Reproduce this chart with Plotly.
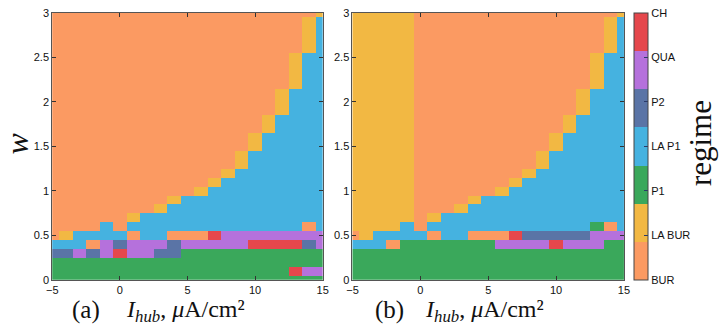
import plotly.graph_objects as go

# ---------------- data ----------------
I_hub = [-5, -4, -3, -2, -1, 0, 1, 2, 3, 4, 5, 6, 7, 8, 9, 10, 11, 12, 13, 14, 15]
w_vals = [0.0, 0.1, 0.2, 0.3, 0.4, 0.5, 0.6, 0.7, 0.8, 0.9, 1.0,
          1.1, 1.2, 1.3, 1.4, 1.5, 1.6, 1.7, 1.8, 1.9, 2.0,
          2.1, 2.2, 2.3, 2.4, 2.5, 2.6, 2.7, 2.8, 2.9, 3.0]

regime_labels = ["BUR", "LA BUR", "P1", "LA P1", "P2", "QUA", "CH"]
regime_colors = ["#FB9A62", "#F2B843", "#3AA85B", "#45B2E0", "#5A74A6", "#B571DC", "#E5474C"]
# letter codes per regime: B=BUR, Y=LA BUR, G=P1, L=LA P1, S=P2, Q=QUA, C=CH
code_map = {"B": 0, "Y": 1, "G": 2, "L": 3, "S": 4, "Q": 5, "C": 6}

# rows from w=0.0 (first) to w=3.0 (last); columns I_hub=-5..15
regime_a = [
    "GGGGGGGGGGGGGGGGGGGGG",  # 0.0
    "GGGGGGGGGGGGGGGGGGCQQ",  # 0.1
    "GGGGGGGGGGGGGGGGGGGGG",  # 0.2
    "SSQSQCQQSSGGGGGGGGGGG",  # 0.3
    "LLLBQSQQQSQQQQQCCCCSQ",  # 0.4
    "BYLLLLBLLBBBCQQQQQQQQ",  # 0.5
    "BBBBLBLLLLLLLLLLLLLBL",  # 0.6
    "BBBBBBYLLLLLLLLLLLLLL",  # 0.7
    "BBBBBBBBYLLLLLLLLLLLL",  # 0.8
    "BBBBBBBBBYLLLLLLLLLLL",  # 0.9
    "BBBBBBBBBBBYLLLLLLLLL",  # 1.0
    "BBBBBBBBBBBBYLLLLLLLL",  # 1.1
    "BBBBBBBBBBBBBYLLLLLLL",  # 1.2
    "BBBBBBBBBBBBBBYLLLLLL",  # 1.3
    "BBBBBBBBBBBBBBYLLLLLL",  # 1.4
    "BBBBBBBBBBBBBBBYLLLLL",  # 1.5
    "BBBBBBBBBBBBBBBYLLLLL",  # 1.6
    "BBBBBBBBBBBBBBBBYLLLL",  # 1.7
    "BBBBBBBBBBBBBBBBYLLLL",  # 1.8
    "BBBBBBBBBBBBBBBBBYLLL",  # 1.9
    "BBBBBBBBBBBBBBBBBYLLL",  # 2.0
    "BBBBBBBBBBBBBBBBBYLLL",  # 2.1
    "BBBBBBBBBBBBBBBBBBYLL",  # 2.2
    "BBBBBBBBBBBBBBBBBBYLL",  # 2.3
    "BBBBBBBBBBBBBBBBBBYLL",  # 2.4
    "BBBBBBBBBBBBBBBBBBYLL",  # 2.5
    "BBBBBBBBBBBBBBBBBBBYL",  # 2.6
    "BBBBBBBBBBBBBBBBBBBYL",  # 2.7
    "BBBBBBBBBBBBBBBBBBBYL",  # 2.8
    "BBBBBBBBBBBBBBBBBBBYL",  # 2.9
    "BBBBBBBBBBBBBBBBBBBBY",  # 3.0
]

regime_b = [
    "GGGGGGGGGGGGGGGGGGGGG",  # 0.0
    "GGGGGGGGGGGGGGGGGGGGG",  # 0.1
    "GGGGGGGGGGGGGGGGGGGGG",  # 0.2
    "GGGGGGGGGGGGGGGGGGGGG",  # 0.3
    "LLLBGGGGGGGQQQQCQQQGG",  # 0.4
    "BYLLLLBLLBBBCSSSSSQQQ",  # 0.5
    "YYYYLBLLLLLLLLLLLLGBL",  # 0.6
    "YYYYYBYLLLLLLLLLLLLLL",  # 0.7
    "YYYYYBBBYLLLLLLLLLLLL",  # 0.8
    "YYYYYBBBBYLLLLLLLLLLL",  # 0.9
    "YYYYYBBBBBBYLLLLLLLLL",  # 1.0
    "YYYYYBBBBBBBYLLLLLLLL",  # 1.1
    "YYYYYBBBBBBBBYLLLLLLL",  # 1.2
    "YYYYYBBBBBBBBBYLLLLLL",  # 1.3
    "YYYYYBBBBBBBBBYLLLLLL",  # 1.4
    "YYYYYBBBBBBBBBBYLLLLL",  # 1.5
    "YYYYYBBBBBBBBBBYLLLLL",  # 1.6
    "YYYYYBBBBBBBBBBBYLLLL",  # 1.7
    "YYYYYBBBBBBBBBBBYLLLL",  # 1.8
    "YYYYYBBBBBBBBBBBBYLLL",  # 1.9
    "YYYYYBBBBBBBBBBBBYLLL",  # 2.0
    "YYYYYBBBBBBBBBBBBYLLL",  # 2.1
    "YYYYYBBBBBBBBBBBBBYLL",  # 2.2
    "YYYYYBBBBBBBBBBBBBYLL",  # 2.3
    "YYYYYBBBBBBBBBBBBBYLL",  # 2.4
    "YYYYYBBBBBBBBBBBBBYLL",  # 2.5
    "YYYYYBBBBBBBBBBBBBBYL",  # 2.6
    "YYYYYBBBBBBBBBBBBBBYL",  # 2.7
    "YYYYYBBBBBBBBBBBBBBYL",  # 2.8
    "YYYYYBBBBBBBBBBBBBBYL",  # 2.9
    "YYYYYBBBBBBBBBBBBBBBY",  # 3.0
]

x_ticks = [-5, 0, 5, 10, 15]
y_ticks = [0, 0.5, 1, 1.5, 2, 2.5, 3]
y_ticktext = ["0", "0.5", "1", "1.5", "2", "2.5", "3"]

for rows in (regime_a, regime_b):
    assert len(rows) == len(w_vals)
    for r in rows:
        assert len(r) == len(I_hub), r

z_a = [[code_map[c] for c in r] for r in regime_a]
z_b = [[code_map[c] for c in r] for r in regime_b]

# discrete colour scale
n = len(regime_colors)
colorscale = []
for i, c in enumerate(regime_colors):
    colorscale.append([i / n, c])
    colorscale.append([(i + 1) / n, c])

# ---------------- layout geometry (pixels) ----------------
W, H = 726, 327
top_px, bot_px = 7.3, 284.3
ax_a = (47.0, 322.0)
ax_b = (352.3, 628.3)
cb_left = 639.0


def px_x(p):
    return p / W


def px_y(p):
    return 1 - p / H


ydom = [px_y(bot_px), px_y(top_px)]

fig = go.Figure()
fig.add_trace(go.Heatmap(x=I_hub, y=w_vals, z=z_a, coloraxis="coloraxis",
                         xaxis="x", yaxis="y", hoverinfo="skip"))
fig.add_trace(go.Heatmap(x=I_hub, y=w_vals, z=z_b, coloraxis="coloraxis",
                         xaxis="x2", yaxis="y2", hoverinfo="skip"))

tickfont = dict(family="Liberation Sans, Arial, sans-serif", size=11, color="#111")
axis_common = dict(ticks="inside", ticklen=4, tickwidth=1, tickcolor="#333",
                   showline=True, linecolor="#555", linewidth=1, mirror="ticks",
                   showgrid=False, zeroline=False, tickfont=tickfont)

fig.update_layout(
    width=W, height=H,
    margin=dict(l=0, r=0, t=0, b=0),
    paper_bgcolor="white", plot_bgcolor="white",
    showlegend=False,
    xaxis=dict(domain=[px_x(ax_a[0]), px_x(ax_a[1])], range=[-5, 15],
               tickvals=x_ticks, anchor="y", **axis_common),
    yaxis=dict(domain=ydom, range=[0, 3], tickvals=y_ticks, ticktext=y_ticktext,
               anchor="x", **axis_common),
    xaxis2=dict(domain=[px_x(ax_b[0]), px_x(ax_b[1])], range=[-5, 15],
                tickvals=x_ticks, anchor="y2", **axis_common),
    yaxis2=dict(domain=ydom, range=[0, 3], tickvals=y_ticks, ticktext=y_ticktext,
                anchor="x2", **axis_common),
    coloraxis=dict(
        colorscale=colorscale, cmin=0, cmax=len(regime_labels) - 1,
        colorbar=dict(
            x=px_x(cb_left), xanchor="left", xpad=0, ypad=0,
            y=(ydom[0] + ydom[1]) / 2, yanchor="middle",
            len=ydom[1] - ydom[0], lenmode="fraction",
            thickness=14, outlinewidth=1, outlinecolor="#444",
            tickvals=list(range(len(regime_labels))), ticktext=regime_labels,
            ticks="inside", ticklen=4, tickcolor="#2a3a6a",
            tickfont=dict(family="Liberation Sans, Arial, sans-serif", size=11, color="#111"),
        ),
    ),
)

serif = "Liberation Serif, Times New Roman, serif"
xtitle = "<i>I</i><sub><i>hub</i></sub>, <i>μ</i>A/cm²"
title_top = 299.0
annos = [
    dict(text="(a)", x=px_x(81), y=px_y(title_top), font=dict(family=serif, size=25)),
    dict(text=xtitle, x=px_x(182.5), y=px_y(title_top), font=dict(family=serif, size=24)),
    dict(text="(b)", x=px_x(390), y=px_y(title_top), font=dict(family=serif, size=25)),
    dict(text=xtitle, x=px_x(487), y=px_y(title_top), font=dict(family=serif, size=24)),
]
for a in annos:
    a.update(yanchor="top")
annos += [
    dict(text="<i>w</i>", x=px_x(11), y=px_y(143), textangle=-90, yanchor="middle",
         font=dict(family=serif, size=32)),
    dict(text="regime", x=px_x(706), y=px_y(142), textangle=-90, yanchor="middle",
         font=dict(family=serif, size=31)),
]
for a in annos:
    a.update(xref="paper", yref="paper", showarrow=False, xanchor="center")
    a["font"]["color"] = "#111"
fig.update_layout(annotations=annos)

fig.write_html("out.html", config={"displayModeBar": False},
               post_script="document.body.style.margin='0';document.body.style.overflow='hidden';")
